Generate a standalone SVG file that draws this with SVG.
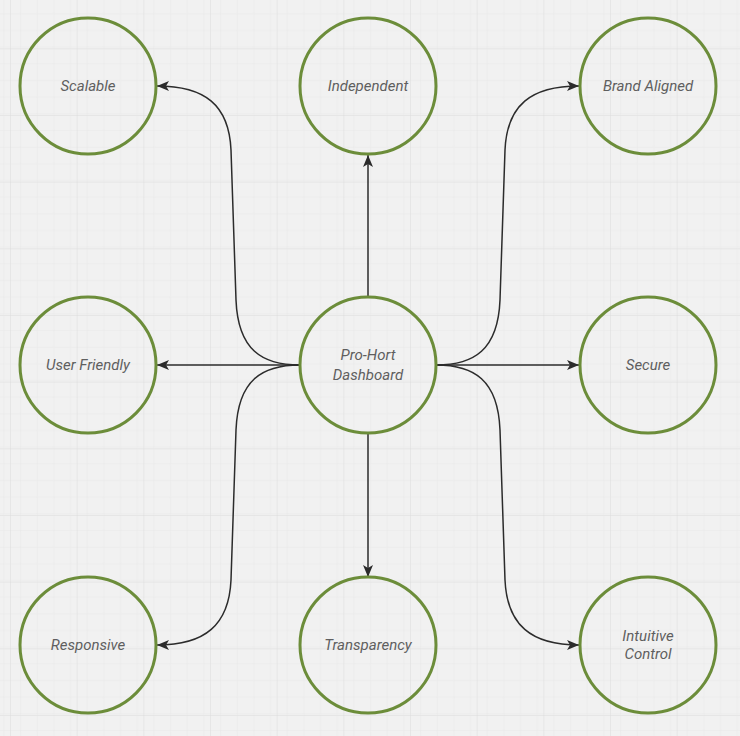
<svg xmlns="http://www.w3.org/2000/svg" width="740" height="736" viewBox="0 0 740 736">
<defs>
<pattern id="minor" x="10" y="48.33" width="16.667" height="16.667" patternUnits="userSpaceOnUse">
<path d="M0,0 H16.667 M0,0 V16.667" fill="none" stroke="#e7e7e7" stroke-width="1"/>
</pattern>
<pattern id="major" x="10" y="48.33" width="66.667" height="66.667" patternUnits="userSpaceOnUse">
<rect width="66.667" height="66.667" fill="url(#minor)"/>
<path d="M0,0 H66.667 M0,0 V66.667" fill="none" stroke="#dcdcdc" stroke-width="1"/>
</pattern>
<marker id="arr" viewBox="0 0 12 10" refX="12" refY="5" markerWidth="12" markerHeight="10" markerUnits="userSpaceOnUse" orient="auto">
<path d="M0,0 L12,5 L0,10 L3,5 z" fill="#2b2b2b"/>
</marker>
</defs>
<style>
.node circle{fill:none;stroke:#6c8d3a;stroke-width:3}
.node text{font-family:Roboto,"Liberation Sans",sans-serif;font-style:italic;font-size:15px;fill:#5f5f5f;text-anchor:middle}
#connectors path{fill:none;stroke:#2b2b2b;stroke-width:1.5;marker-end:url(#arr)}
</style>
<rect width="740" height="736" fill="#f1f1f1"/>
<rect width="740" height="736" fill="url(#major)"/>
<g id="connectors">
<path d="M368,297 V155"/>
<path d="M368,433 V577"/>
<path d="M300,365 H157"/>
<path d="M436,365 H579"/>
<path d="M300,365 C262,365 238,350 236,300 L231,150 C229,105 205,86 157,86"/>
<path d="M300,365 C262,365 238,380 236,430 L231,580 C229,625 205,645 157,645"/>
<path d="M436,365 C474,365 498,350 500,300 L505,150 C507,105 531,86 579,86"/>
<path d="M436,365 C474,365 498,380 500,430 L505,580 C507,625 531,645 579,645"/>
</g>
<g id="scalable" class="node"><circle cx="88" cy="86" r="68"/><text x="88" y="91">Scalable</text></g>
<g id="independent" class="node"><circle cx="368" cy="86" r="68"/><text x="368" y="91">Independent</text></g>
<g id="brand-aligned" class="node"><circle cx="648" cy="86" r="68"/><text x="648" y="91">Brand Aligned</text></g>
<g id="user-friendly" class="node"><circle cx="88" cy="365" r="68"/><text x="88" y="370">User Friendly</text></g>
<g id="pro-hort-dashboard" class="node"><circle cx="368" cy="365" r="68"/><text x="368" y="360">Pro-Hort</text><text x="368" y="380">Dashboard</text></g>
<g id="secure" class="node"><circle cx="648" cy="365" r="68"/><text x="648" y="370">Secure</text></g>
<g id="responsive" class="node"><circle cx="88" cy="645" r="68"/><text x="88" y="650">Responsive</text></g>
<g id="transparency" class="node"><circle cx="368" cy="645" r="68"/><text x="368" y="650">Transparency</text></g>
<g id="intuitive-control" class="node"><circle cx="648" cy="645" r="68"/><text x="648" y="641">Intuitive</text><text x="648" y="659">Control</text></g>
</svg>
